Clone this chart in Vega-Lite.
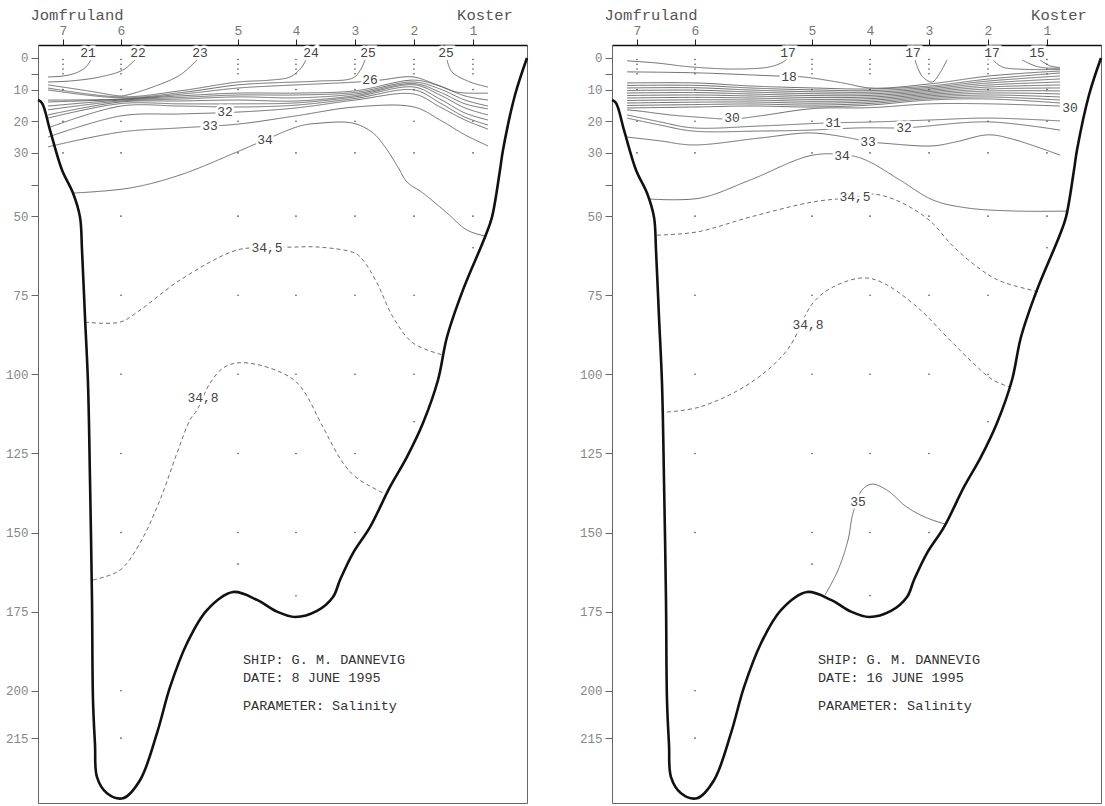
{
"$schema":"https://vega.github.io/schema/vega-lite/v6.json",
"background":"white",
"padding":{"left":4,"top":7,"right":4,"bottom":3},
"bounds":"flush",
"spacing":85,
"config":{"view":{"stroke":"#666","strokeWidth":1},"font":"Liberation Mono"},
"datasets":{
"bottom":[{"km":0,"d":13.3},{"km":0.4,"d":14.2},{"km":1.2,"d":22.8},{"km":2.4,"d":35.4},{"km":3.5,"d":42.7},{"km":4.2,"d":50.3},{"km":4.4,"d":60.7},{"km":4.7,"d":81.9},{"km":5.0,"d":102.8},{"km":5.2,"d":133.4},{"km":5.4,"d":171.4},{"km":5.5,"d":203},{"km":5.7,"d":217},{"km":5.9,"d":227.3},{"km":6.9,"d":232.4},{"km":8.5,"d":234},{"km":10.2,"d":228.3},{"km":11.9,"d":213.4},{"km":13.2,"d":198.9},{"km":14.9,"d":185},{"km":16.9,"d":174.5},{"km":19.5,"d":168.8},{"km":21.9,"d":171.3},{"km":23.9,"d":175.0},{"km":25.7,"d":176.7},{"km":27.9,"d":174.8},{"km":29.5,"d":170.4},{"km":30.2,"d":165},{"km":31.5,"d":156.5},{"km":33.2,"d":148.3},{"km":35.2,"d":135.6},{"km":36.9,"d":126.1},{"km":38.5,"d":115.4},{"km":40.0,"d":101.8},{"km":40.9,"d":88.2},{"km":42.5,"d":73.3},{"km":44.7,"d":56.6},{"km":45.4,"d":50.3},{"km":46.2,"d":35.4},{"km":46.5,"d":29.1},{"km":47.7,"d":11.7},{"km":48.9,"d":0}],
"dots":[
{"km":2.5,"d":0.5},{"km":2.5,"d":2},{"km":2.5,"d":3.5},{"km":2.5,"d":5},{"km":2.5,"d":10},{"km":2.5,"d":20},{"km":2.5,"d":30},
{"km":8.3,"d":0.5},{"km":8.3,"d":2},{"km":8.3,"d":3.5},{"km":8.3,"d":5},{"km":8.3,"d":10},{"km":8.3,"d":20},{"km":8.3,"d":30},{"km":8.3,"d":50},{"km":8.3,"d":75},{"km":8.3,"d":100},{"km":8.3,"d":125},{"km":8.3,"d":150},{"km":8.3,"d":200},{"km":8.3,"d":215},
{"km":20.0,"d":0.5},{"km":20.0,"d":2},{"km":20.0,"d":3.5},{"km":20.0,"d":5},{"km":20.0,"d":10},{"km":20.0,"d":20},{"km":20.0,"d":30},{"km":20.0,"d":50},{"km":20.0,"d":75},{"km":20.0,"d":100},{"km":20.0,"d":125},{"km":20.0,"d":150},{"km":20.0,"d":160},
{"km":25.8,"d":0.5},{"km":25.8,"d":2},{"km":25.8,"d":3.5},{"km":25.8,"d":5},{"km":25.8,"d":10},{"km":25.8,"d":20},{"km":25.8,"d":30},{"km":25.8,"d":50},{"km":25.8,"d":75},{"km":25.8,"d":100},{"km":25.8,"d":125},{"km":25.8,"d":150},{"km":25.8,"d":170},
{"km":31.7,"d":0.5},{"km":31.7,"d":2},{"km":31.7,"d":3.5},{"km":31.7,"d":5},{"km":31.7,"d":10},{"km":31.7,"d":20},{"km":31.7,"d":30},{"km":31.7,"d":50},{"km":31.7,"d":75},{"km":31.7,"d":100},{"km":31.7,"d":125},{"km":31.7,"d":150},
{"km":37.6,"d":0.5},{"km":37.6,"d":2},{"km":37.6,"d":3.5},{"km":37.6,"d":5},{"km":37.6,"d":10},{"km":37.6,"d":20},{"km":37.6,"d":30},{"km":37.6,"d":50},{"km":37.6,"d":75},{"km":37.6,"d":100},{"km":37.6,"d":115},
{"km":43.5,"d":0.5},{"km":43.5,"d":2},{"km":43.5,"d":3.5},{"km":43.5,"d":5},{"km":43.5,"d":10},{"km":43.5,"d":20},{"km":43.5,"d":30},{"km":43.5,"d":50},{"km":43.5,"d":60}],
"names":[{"t":"Jomfruland","km":3.9,"d":-13.6},{"t":"Koster","km":44.7,"d":-13.6}],
"info1":[{"t":"SHIP: G. M. DANNEVIG","km":20.5,"d":190.3},{"t":"DATE: 8 JUNE 1995","km":20.5,"d":196.0},{"t":"PARAMETER: Salinity","km":20.5,"d":204.9}],
"info2":[{"t":"SHIP: G. M. DANNEVIG","km":20.6,"d":190.3},{"t":"DATE: 16 JUNE 1995","km":20.6,"d":196.0},{"t":"PARAMETER: Salinity","km":20.6,"d":204.9}],
"lab1":[{"t":"21","km":5.0,"d":-1.6},{"t":"22","km":10.0,"d":-1.6},{"t":"23","km":16.2,"d":-1.6},{"t":"24","km":27.3,"d":-1.6},{"t":"25","km":33.0,"d":-1.6},{"t":"25","km":40.8,"d":-1.6},{"t":"26","km":33.2,"d":7.0},{"t":"32","km":18.7,"d":17.2},{"t":"33","km":17.2,"d":21.6},{"t":"34","km":22.7,"d":25.9},{"t":"34,5","km":22.9,"d":60.0},{"t":"34,8","km":16.5,"d":107.5}],
"lab2":[{"t":"17","km":17.6,"d":-1.6},{"t":"17","km":30.1,"d":-1.6},{"t":"17","km":38.0,"d":-1.6},{"t":"15","km":42.5,"d":-1.6},{"t":"18","km":17.7,"d":5.9},{"t":"30","km":12.0,"d":19.1},{"t":"30","km":45.8,"d":15.8},{"t":"31","km":22.1,"d":20.6},{"t":"32","km":29.2,"d":22.1},{"t":"33","km":25.6,"d":26.6},{"t":"34","km":23.0,"d":31.0},{"t":"34,5","km":24.3,"d":44.0},{"t":"34,8","km":19.6,"d":84.5},{"t":"35","km":24.6,"d":140.5}],
"c1":[
{"id":"c21","s":"s","km":1.0,"d":6.0},{"id":"c21","s":"s","km":2.5,"d":5.7},{"id":"c21","s":"s","km":3.9,"d":4.6},{"id":"c21","s":"s","km":4.8,"d":2.8},{"id":"c21","s":"s","km":5.3,"d":0.6},
{"id":"c22","s":"s","km":1.0,"d":7.6},{"id":"c22","s":"s","km":3.5,"d":7.2},{"id":"c22","s":"s","km":6.2,"d":6.0},{"id":"c22","s":"s","km":8.5,"d":3.8},{"id":"c22","s":"s","km":9.7,"d":0.6},
{"id":"c23","s":"s","km":1.0,"d":8.5},{"id":"c23","s":"s","km":5.0,"d":10.4},{"id":"c23","s":"s","km":8.3,"d":12.0},{"id":"c23","s":"s","km":8.9,"d":11.7},{"id":"c23","s":"s","km":11.2,"d":9.5},{"id":"c23","s":"s","km":14.2,"d":5.4},{"id":"c23","s":"s","km":15.9,"d":0.6},
{"id":"c24","s":"s","km":1.0,"d":9.5},{"id":"c24","s":"s","km":8.3,"d":12.3},{"id":"c24","s":"s","km":14.2,"d":10.4},{"id":"c24","s":"s","km":20.0,"d":7.6},{"id":"c24","s":"s","km":23.2,"d":7.0},{"id":"c24","s":"s","km":25.2,"d":6.0},{"id":"c24","s":"s","km":26.3,"d":3.2},{"id":"c24","s":"s","km":26.8,"d":0.6},
{"id":"c25a","s":"s","km":1.0,"d":10.1},{"id":"c25a","s":"s","km":8.3,"d":12.6},{"id":"c25a","s":"s","km":14.2,"d":11.0},{"id":"c25a","s":"s","km":20.0,"d":8.5},{"id":"c25a","s":"s","km":23.2,"d":7.9},{"id":"c25a","s":"s","km":28.0,"d":7.3},{"id":"c25a","s":"s","km":31.5,"d":6.3},{"id":"c25a","s":"s","km":32.3,"d":3.5},{"id":"c25a","s":"s","km":32.7,"d":0.6},
{"id":"c25b","s":"s","km":40.9,"d":0.6},{"id":"c25b","s":"s","km":41.4,"d":4.4},{"id":"c25b","s":"s","km":43.2,"d":7.6},{"id":"c25b","s":"s","km":45.0,"d":9.2},
{"id":"c26","s":"s","km":1.0,"d":13.3},{"id":"c26","s":"s","km":8.3,"d":13.0},{"id":"c26","s":"s","km":14.2,"d":11.5},{"id":"c26","s":"s","km":20.0,"d":9.5},{"id":"c26","s":"s","km":23.2,"d":8.9},{"id":"c26","s":"s","km":28.0,"d":8.2},{"id":"c26","s":"s","km":31.9,"d":7.6},{"id":"c26","s":"s","km":34.2,"d":7.0},{"id":"c26","s":"s","km":37.5,"d":6.0},{"id":"c26","s":"s","km":39.9,"d":8.5},{"id":"c26","s":"s","km":41.9,"d":10.8},{"id":"c26","s":"s","km":45.0,"d":11.1},
{"id":"c27","s":"s","km":1.0,"d":13.9},{"id":"c27","s":"s","km":8.3,"d":13.1},{"id":"c27","s":"s","km":14.2,"d":12.0},{"id":"c27","s":"s","km":20.0,"d":11.1},{"id":"c27","s":"s","km":25.8,"d":11.1},{"id":"c27","s":"s","km":31.7,"d":10.4},{"id":"c27","s":"s","km":37.6,"d":7.0},{"id":"c27","s":"s","km":40.2,"d":8.9},{"id":"c27","s":"s","km":42.7,"d":12.0},{"id":"c27","s":"s","km":45.0,"d":13.3},
{"id":"c28","s":"s","km":1.0,"d":15.2},{"id":"c28","s":"s","km":8.3,"d":13.3},{"id":"c28","s":"s","km":14.2,"d":12.5},{"id":"c28","s":"s","km":20.0,"d":11.7},{"id":"c28","s":"s","km":25.8,"d":11.7},{"id":"c28","s":"s","km":31.7,"d":10.9},{"id":"c28","s":"s","km":37.6,"d":7.6},{"id":"c28","s":"s","km":40.2,"d":9.8},{"id":"c28","s":"s","km":42.7,"d":13.3},{"id":"c28","s":"s","km":45.0,"d":15.2},
{"id":"c29","s":"s","km":1.0,"d":16.4},{"id":"c29","s":"s","km":8.3,"d":13.6},{"id":"c29","s":"s","km":14.2,"d":13.0},{"id":"c29","s":"s","km":20.0,"d":12.3},{"id":"c29","s":"s","km":25.8,"d":12.6},{"id":"c29","s":"s","km":31.7,"d":11.4},{"id":"c29","s":"s","km":37.6,"d":8.1},{"id":"c29","s":"s","km":40.2,"d":10.8},{"id":"c29","s":"s","km":42.7,"d":14.5},{"id":"c29","s":"s","km":45.0,"d":16.1},
{"id":"c30","s":"s","km":1.0,"d":18.0},{"id":"c30","s":"s","km":8.3,"d":13.9},{"id":"c30","s":"s","km":14.2,"d":13.6},{"id":"c30","s":"s","km":20.0,"d":13.3},{"id":"c30","s":"s","km":25.8,"d":13.6},{"id":"c30","s":"s","km":31.7,"d":11.9},{"id":"c30","s":"s","km":37.6,"d":8.5},{"id":"c30","s":"s","km":40.2,"d":11.7},{"id":"c30","s":"s","km":42.7,"d":15.8},{"id":"c30","s":"s","km":45.0,"d":18.0},
{"id":"c31","s":"s","km":1.0,"d":19.0},{"id":"c31","s":"s","km":8.3,"d":14.4},{"id":"c31","s":"s","km":14.2,"d":14.5},{"id":"c31","s":"s","km":20.0,"d":14.5},{"id":"c31","s":"s","km":25.8,"d":14.2},{"id":"c31","s":"s","km":31.7,"d":12.3},{"id":"c31","s":"s","km":37.6,"d":9.2},{"id":"c31","s":"s","km":40.2,"d":13.0},{"id":"c31","s":"s","km":42.7,"d":17.4},{"id":"c31","s":"s","km":45.0,"d":19.6},
{"id":"c31b","s":"s","km":1.0,"d":22.1},{"id":"c31b","s":"s","km":8.3,"d":15.2},{"id":"c31b","s":"s","km":14.2,"d":15.2},{"id":"c31b","s":"s","km":20.0,"d":15.5},{"id":"c31b","s":"s","km":25.8,"d":14.9},{"id":"c31b","s":"s","km":31.7,"d":12.8},{"id":"c31b","s":"s","km":37.6,"d":10.1},{"id":"c31b","s":"s","km":40.2,"d":14.2},{"id":"c31b","s":"s","km":42.7,"d":18.7},{"id":"c31b","s":"s","km":45.0,"d":21.2},
{"id":"c32","s":"s","km":1.0,"d":25.0},{"id":"c32","s":"s","km":8.3,"d":18.3},{"id":"c32","s":"s","km":14.2,"d":17.7},{"id":"c32","s":"s","km":20.0,"d":17.1},{"id":"c32","s":"s","km":25.8,"d":15.8},{"id":"c32","s":"s","km":31.7,"d":13.3},{"id":"c32","s":"s","km":37.6,"d":11.4},{"id":"c32","s":"s","km":40.2,"d":15.5},{"id":"c32","s":"s","km":42.7,"d":19.6},{"id":"c32","s":"s","km":45.0,"d":22.5},
{"id":"c33","s":"s","km":1.0,"d":28.1},{"id":"c33","s":"s","km":8.3,"d":23.4},{"id":"c33","s":"s","km":14.2,"d":22.1},{"id":"c33","s":"s","km":20.0,"d":20.9},{"id":"c33","s":"s","km":25.8,"d":18.3},{"id":"c33","s":"s","km":31.7,"d":15.5},{"id":"c33","s":"s","km":37.6,"d":15.5},{"id":"c33","s":"s","km":40.2,"d":19.6},{"id":"c33","s":"s","km":42.7,"d":24.3},{"id":"c33","s":"s","km":45.0,"d":27.8},
{"id":"c34","s":"s","km":3.5,"d":42.7},{"id":"c34","s":"s","km":9.2,"d":41.1},{"id":"c34","s":"s","km":14.2,"d":37.0},{"id":"c34","s":"s","km":19.9,"d":29.7},{"id":"c34","s":"s","km":22.7,"d":25.9},{"id":"c34","s":"s","km":26.2,"d":21.5},{"id":"c34","s":"s","km":28.2,"d":20.6},{"id":"c34","s":"s","km":31.5,"d":20.6},{"id":"c34","s":"s","km":33.5,"d":23.7},{"id":"c34","s":"s","km":34.7,"d":28.1},{"id":"c34","s":"s","km":36.0,"d":34.5},{"id":"c34","s":"s","km":36.9,"d":39.2},{"id":"c34","s":"s","km":38.5,"d":42.7},{"id":"c34","s":"s","km":40.9,"d":49.0},{"id":"c34","s":"s","km":42.9,"d":54.4},{"id":"c34","s":"s","km":44.7,"d":56.3},
{"id":"c345","s":"d","km":4.7,"d":83.5},{"id":"c345","s":"d","km":8.2,"d":83.5},{"id":"c345","s":"d","km":10.2,"d":79.7},{"id":"c345","s":"d","km":14.2,"d":70.2},{"id":"c345","s":"d","km":19.9,"d":60.7},{"id":"c345","s":"d","km":22.9,"d":60.0},{"id":"c345","s":"d","km":25.2,"d":59.8},{"id":"c345","s":"d","km":28.2,"d":59.8},{"id":"c345","s":"d","km":31.7,"d":61.7},{"id":"c345","s":"d","km":32.5,"d":63.9},{"id":"c345","s":"d","km":33.9,"d":71.1},{"id":"c345","s":"d","km":35.5,"d":81.9},{"id":"c345","s":"d","km":37.5,"d":90.1},{"id":"c345","s":"d","km":40.5,"d":93.9},
{"id":"c348","s":"d","km":5.5,"d":165.0},{"id":"c348","s":"d","km":8.2,"d":161.9},{"id":"c348","s":"d","km":10.2,"d":153.3},{"id":"c348","s":"d","km":12.2,"d":139.7},{"id":"c348","s":"d","km":13.9,"d":124.9},{"id":"c348","s":"d","km":15.2,"d":114.4},{"id":"c348","s":"d","km":15.9,"d":111.3},{"id":"c348","s":"d","km":17.2,"d":102.8},{"id":"c348","s":"d","km":18.5,"d":98.0},{"id":"c348","s":"d","km":19.9,"d":96.4},{"id":"c348","s":"d","km":22.2,"d":97.1},{"id":"c348","s":"d","km":25.2,"d":100.9},{"id":"c348","s":"d","km":26.5,"d":104.9},{"id":"c348","s":"d","km":28.5,"d":116.7},{"id":"c348","s":"d","km":30.5,"d":128.0},{"id":"c348","s":"d","km":31.9,"d":132.8},{"id":"c348","s":"d","km":34.5,"d":137.5}],
"c2":[
{"id":"c17a","s":"s","km":1.5,"d":0.9},{"id":"c17a","s":"s","km":4.5,"d":1.6},{"id":"c17a","s":"s","km":7.8,"d":2.8},{"id":"c17a","s":"s","km":12.5,"d":3.5},{"id":"c17a","s":"s","km":15.8,"d":2.8},{"id":"c17a","s":"s","km":17.1,"d":1.3},{"id":"c17a","s":"s","km":17.5,"d":0.3},
{"id":"c18","s":"s","km":1.5,"d":4.4},{"id":"c18","s":"s","km":8.4,"d":4.7},{"id":"c18","s":"s","km":16.5,"d":5.7},{"id":"c18","s":"s","km":19.1,"d":6.0},{"id":"c18","s":"s","km":23.1,"d":7.9},{"id":"c18","s":"s","km":25.9,"d":9.5},{"id":"c18","s":"s","km":31.8,"d":8.2},{"id":"c18","s":"s","km":37.7,"d":5.7},{"id":"c18","s":"s","km":44.8,"d":4.1},
{"id":"c17b","s":"s","km":38.1,"d":0.6},{"id":"c17b","s":"s","km":39.0,"d":2.8},{"id":"c17b","s":"s","km":41.3,"d":3.6},{"id":"c17b","s":"s","km":44.8,"d":3.6},
{"id":"c16","s":"s","km":41.0,"d":0.6},{"id":"c16","s":"s","km":42.6,"d":2.8},{"id":"c16","s":"s","km":44.8,"d":3.3},
{"id":"c15","s":"s","km":42.8,"d":0.6},{"id":"c15","s":"s","km":43.8,"d":2.5},{"id":"c15","s":"s","km":44.8,"d":3.0},
{"id":"c17c","s":"s","km":30.3,"d":0.6},{"id":"c17c","s":"s","km":31.0,"d":5.7},{"id":"c17c","s":"s","km":32.0,"d":7.6},{"id":"c17c","s":"s","km":32.8,"d":4.7},{"id":"c17c","s":"s","km":33.5,"d":0.6},
{"id":"b0","s":"s","km":1.5,"d":7.9},{"id":"b0","s":"s","km":8.4,"d":7.9},{"id":"b0","s":"s","km":13.8,"d":8.85},{"id":"b0","s":"s","km":20.1,"d":9.48},{"id":"b0","s":"s","km":25.9,"d":9.8},{"id":"b0","s":"s","km":31.8,"d":8.85},{"id":"b0","s":"s","km":37.7,"d":6.64},{"id":"b0","s":"s","km":44.8,"d":4.74},
{"id":"b1","s":"s","km":1.5,"d":8.69},{"id":"b1","s":"s","km":8.4,"d":8.66},{"id":"b1","s":"s","km":13.8,"d":9.48},{"id":"b1","s":"s","km":20.1,"d":10.09},{"id":"b1","s":"s","km":25.9,"d":10.31},{"id":"b1","s":"s","km":31.8,"d":9.29},{"id":"b1","s":"s","km":37.7,"d":7.27},{"id":"b1","s":"s","km":44.8,"d":5.69},
{"id":"b2","s":"s","km":1.5,"d":9.48},{"id":"b2","s":"s","km":8.4,"d":9.42},{"id":"b2","s":"s","km":13.8,"d":10.12},{"id":"b2","s":"s","km":20.1,"d":10.69},{"id":"b2","s":"s","km":25.9,"d":10.81},{"id":"b2","s":"s","km":31.8,"d":9.74},{"id":"b2","s":"s","km":37.7,"d":7.9},{"id":"b2","s":"s","km":44.8,"d":6.64},
{"id":"b3","s":"s","km":1.5,"d":10.28},{"id":"b3","s":"s","km":8.4,"d":10.18},{"id":"b3","s":"s","km":13.8,"d":10.75},{"id":"b3","s":"s","km":20.1,"d":11.29},{"id":"b3","s":"s","km":25.9,"d":11.32},{"id":"b3","s":"s","km":31.8,"d":10.18},{"id":"b3","s":"s","km":37.7,"d":8.54},{"id":"b3","s":"s","km":44.8,"d":7.59},
{"id":"b4","s":"s","km":1.5,"d":11.07},{"id":"b4","s":"s","km":8.4,"d":10.94},{"id":"b4","s":"s","km":13.8,"d":11.38},{"id":"b4","s":"s","km":20.1,"d":11.89},{"id":"b4","s":"s","km":25.9,"d":11.82},{"id":"b4","s":"s","km":31.8,"d":10.62},{"id":"b4","s":"s","km":37.7,"d":9.17},{"id":"b4","s":"s","km":44.8,"d":8.54},
{"id":"b5","s":"s","km":1.5,"d":11.86},{"id":"b5","s":"s","km":8.4,"d":11.7},{"id":"b5","s":"s","km":13.8,"d":12.01},{"id":"b5","s":"s","km":20.1,"d":12.49},{"id":"b5","s":"s","km":25.9,"d":12.33},{"id":"b5","s":"s","km":31.8,"d":11.07},{"id":"b5","s":"s","km":37.7,"d":9.8},{"id":"b5","s":"s","km":44.8,"d":9.48},
{"id":"b6","s":"s","km":1.5,"d":12.65},{"id":"b6","s":"s","km":8.4,"d":12.46},{"id":"b6","s":"s","km":13.8,"d":12.65},{"id":"b6","s":"s","km":20.1,"d":13.09},{"id":"b6","s":"s","km":25.9,"d":12.84},{"id":"b6","s":"s","km":31.8,"d":11.51},{"id":"b6","s":"s","km":37.7,"d":10.43},{"id":"b6","s":"s","km":44.8,"d":10.43},
{"id":"b7","s":"s","km":1.5,"d":13.44},{"id":"b7","s":"s","km":8.4,"d":13.22},{"id":"b7","s":"s","km":13.8,"d":13.28},{"id":"b7","s":"s","km":20.1,"d":13.69},{"id":"b7","s":"s","km":25.9,"d":13.34},{"id":"b7","s":"s","km":31.8,"d":11.95},{"id":"b7","s":"s","km":37.7,"d":11.07},{"id":"b7","s":"s","km":44.8,"d":11.38},
{"id":"b8","s":"s","km":1.5,"d":14.23},{"id":"b8","s":"s","km":8.4,"d":13.97},{"id":"b8","s":"s","km":13.8,"d":13.91},{"id":"b8","s":"s","km":20.1,"d":14.29},{"id":"b8","s":"s","km":25.9,"d":13.85},{"id":"b8","s":"s","km":31.8,"d":12.39},{"id":"b8","s":"s","km":37.7,"d":11.7},{"id":"b8","s":"s","km":44.8,"d":12.33},
{"id":"b9","s":"s","km":1.5,"d":15.02},{"id":"b9","s":"s","km":8.4,"d":14.73},{"id":"b9","s":"s","km":13.8,"d":14.54},{"id":"b9","s":"s","km":20.1,"d":14.89},{"id":"b9","s":"s","km":25.9,"d":14.35},{"id":"b9","s":"s","km":31.8,"d":12.84},{"id":"b9","s":"s","km":37.7,"d":12.33},{"id":"b9","s":"s","km":44.8,"d":13.28},
{"id":"b10","s":"s","km":1.5,"d":15.81},{"id":"b10","s":"s","km":8.4,"d":15.49},{"id":"b10","s":"s","km":13.8,"d":15.18},{"id":"b10","s":"s","km":20.1,"d":15.49},{"id":"b10","s":"s","km":25.9,"d":14.86},{"id":"b10","s":"s","km":31.8,"d":13.28},{"id":"b10","s":"s","km":37.7,"d":12.96},{"id":"b10","s":"s","km":44.8,"d":14.23},
{"id":"c30","s":"s","km":1.5,"d":16.4},{"id":"c30","s":"s","km":2.8,"d":16.8},{"id":"c30","s":"s","km":5.8,"d":18.0},{"id":"c30","s":"s","km":8.5,"d":18.7},{"id":"c30","s":"s","km":12.0,"d":19.3},{"id":"c30","s":"s","km":14.8,"d":18.3},{"id":"c30","s":"s","km":20.1,"d":16.0},{"id":"c30","s":"s","km":25.9,"d":15.7},{"id":"c30","s":"s","km":31.8,"d":14.5},{"id":"c30","s":"s","km":37.7,"d":14.5},{"id":"c30","s":"s","km":44.8,"d":15.2},
{"id":"c31","s":"s","km":1.5,"d":18.0},{"id":"c31","s":"s","km":4.8,"d":20.2},{"id":"c31","s":"s","km":8.1,"d":22.1},{"id":"c31","s":"s","km":14.8,"d":21.5},{"id":"c31","s":"s","km":21.1,"d":20.6},{"id":"c31","s":"s","km":26.5,"d":20.2},{"id":"c31","s":"s","km":31.8,"d":19.6},{"id":"c31","s":"s","km":37.7,"d":19.0},{"id":"c31","s":"s","km":44.8,"d":19.9},
{"id":"c32","s":"s","km":1.5,"d":19.0},{"id":"c32","s":"s","km":4.8,"d":21.2},{"id":"c32","s":"s","km":8.1,"d":23.1},{"id":"c32","s":"s","km":14.8,"d":23.1},{"id":"c32","s":"s","km":19.8,"d":22.8},{"id":"c32","s":"s","km":24.8,"d":22.1},{"id":"c32","s":"s","km":29.2,"d":22.1},{"id":"c32","s":"s","km":30.6,"d":21.8},{"id":"c32","s":"s","km":37.6,"d":20.2},{"id":"c32","s":"s","km":44.8,"d":22.8},
{"id":"c33","s":"s","km":1.5,"d":25.0},{"id":"c33","s":"s","km":4.8,"d":26.2},{"id":"c33","s":"s","km":8.1,"d":27.5},{"id":"c33","s":"s","km":14.8,"d":25.3},{"id":"c33","s":"s","km":19.8,"d":23.7},{"id":"c33","s":"s","km":23.3,"d":25.0},{"id":"c33","s":"s","km":25.8,"d":26.6},{"id":"c33","s":"s","km":27.0,"d":26.9},{"id":"c33","s":"s","km":32.0,"d":27.8},{"id":"c33","s":"s","km":34.3,"d":26.6},{"id":"c33","s":"s","km":37.6,"d":24.3},{"id":"c33","s":"s","km":40.0,"d":25.6},{"id":"c33","s":"s","km":44.8,"d":30.7},
{"id":"c34","s":"s","km":3.8,"d":44.6},{"id":"c34","s":"s","km":8.8,"d":44.3},{"id":"c34","s":"s","km":13.8,"d":38.6},{"id":"c34","s":"s","km":20.1,"d":30.7},{"id":"c34","s":"s","km":24.1,"d":31.0},{"id":"c34","s":"s","km":25.8,"d":32.9},{"id":"c34","s":"s","km":28.8,"d":38.6},{"id":"c34","s":"s","km":32.1,"d":44.9},{"id":"c34","s":"s","km":35.5,"d":47.4},{"id":"c34","s":"s","km":40.5,"d":48.4},{"id":"c34","s":"s","km":45.5,"d":48.4},
{"id":"c345","s":"d","km":4.5,"d":56.0},{"id":"c345","s":"d","km":8.5,"d":55.0},{"id":"c345","s":"d","km":13.8,"d":50.3},{"id":"c345","s":"d","km":20.1,"d":45.5},{"id":"c345","s":"d","km":24.3,"d":44.0},{"id":"c345","s":"d","km":26.1,"d":43.0},{"id":"c345","s":"d","km":28.8,"d":45.5},{"id":"c345","s":"d","km":31.8,"d":51.5},{"id":"c345","s":"d","km":34.1,"d":59.5},{"id":"c345","s":"d","km":36.8,"d":66.7},{"id":"c345","s":"d","km":38.8,"d":70.5},{"id":"c345","s":"d","km":42.8,"d":74.0},
{"id":"c348","s":"d","km":5.5,"d":111.9},{"id":"c348","s":"d","km":8.8,"d":110.3},{"id":"c348","s":"d","km":13.8,"d":102.8},{"id":"c348","s":"d","km":17.5,"d":92.4},{"id":"c348","s":"d","km":20.1,"d":77.4},{"id":"c348","s":"d","km":22.1,"d":72.4},{"id":"c348","s":"d","km":25.1,"d":69.5},{"id":"c348","s":"d","km":27.1,"d":71.1},{"id":"c348","s":"d","km":30.5,"d":78.7},{"id":"c348","s":"d","km":33.8,"d":89.2},{"id":"c348","s":"d","km":36.1,"d":96.4},{"id":"c348","s":"d","km":38.1,"d":101.8},{"id":"c348","s":"d","km":39.8,"d":104.0},
{"id":"c35","s":"s","km":21.3,"d":169.8},{"id":"c35","s":"s","km":22.6,"d":161.9},{"id":"c35","s":"s","km":23.6,"d":152.4},{"id":"c35","s":"s","km":24.1,"d":143.9},{"id":"c35","s":"s","km":25.0,"d":136.6},{"id":"c35","s":"s","km":26.0,"d":134.7},{"id":"c35","s":"s","km":27.5,"d":136.6},{"id":"c35","s":"s","km":29.5,"d":142.0},{"id":"c35","s":"s","km":31.5,"d":145.4},{"id":"c35","s":"s","km":33.3,"d":147.3}]
},
"hconcat":[
{"width":489,"height":758,
"encoding":{
"x":{"field":"km","type":"quantitative","title":null,"scale":{"domain":[0,48.9],"nice":false,"zero":false},"axis":{"orient":"top","values":[2.5,8.3,20,25.8,31.7,37.6,43.5],"labelExpr":"datum.value < 5 ? '7' : datum.value < 12 ? '6' : datum.value < 23 ? '5' : datum.value < 29 ? '4' : datum.value < 35 ? '3' : datum.value < 40 ? '2' : '1'","grid":false,"tickSize":6,"tickColor":"#222","domainColor":"#111","domainWidth":1.3,"labelColor":"#777","labelFontSize":13,"labelFont":"Liberation Mono","labelPadding":2}},
"y":{"field":"d","type":"quantitative","title":null,"scale":{"domain":[-4.1,235.5],"reverse":true,"nice":false,"zero":false},"axis":{"values":[0,5,10,20,30,40,50,75,100,125,150,175,200,215],"labelExpr":"datum.value == 5 || datum.value == 40 ? '' : datum.label","grid":false,"tickSize":7,"tickColor":"#666","domainColor":"#666","labelColor":"#888","labelFontSize":12.5,"labelFont":"Liberation Mono","labelPadding":3}}},
"layer":[
{"data":{"name":"dots"},"mark":{"type":"point","filled":true,"size":2.5,"color":"#444","opacity":1}},
{"data":{"name":"c1"},"mark":{"type":"line","interpolate":"catmull-rom","strokeWidth":0.85,"color":"#555"},
"encoding":{"detail":{"field":"id"},"strokeDash":{"field":"s","type":"nominal","scale":{"domain":["s","d"],"range":[[1,0],[4,3]]},"legend":null}}},
{"data":{"name":"bottom"},"mark":{"type":"line","interpolate":"catmull-rom","strokeWidth":2.6,"color":"#111"},"encoding":{}},
{"data":{"name":"lab1"},"mark":{"type":"text","font":"Liberation Mono","fontSize":13,"stroke":"white","strokeWidth":5,"fill":"white"},"encoding":{"text":{"field":"t"}}},
{"data":{"name":"lab1"},"mark":{"type":"text","font":"Liberation Mono","fontSize":13,"color":"#444"},"encoding":{"text":{"field":"t"}}},
{"data":{"name":"names"},"mark":{"type":"text","font":"Liberation Mono","fontSize":15.5,"color":"#555"},"encoding":{"text":{"field":"t"}}},
{"data":{"name":"info1"},"mark":{"type":"text","align":"left","font":"Liberation Mono","fontSize":13.5,"color":"#333"},"encoding":{"text":{"field":"t"}}}
]},
{"width":489,"height":758,
"encoding":{
"x":{"field":"km","type":"quantitative","title":null,"scale":{"domain":[0,48.9],"nice":false,"zero":false},"axis":{"orient":"top","values":[2.5,8.3,20,25.8,31.7,37.6,43.5],"labelExpr":"datum.value < 5 ? '7' : datum.value < 12 ? '6' : datum.value < 23 ? '5' : datum.value < 29 ? '4' : datum.value < 35 ? '3' : datum.value < 40 ? '2' : '1'","grid":false,"tickSize":6,"tickColor":"#222","domainColor":"#111","domainWidth":1.3,"labelColor":"#777","labelFontSize":13,"labelFont":"Liberation Mono","labelPadding":2}},
"y":{"field":"d","type":"quantitative","title":null,"scale":{"domain":[-4.1,235.5],"reverse":true,"nice":false,"zero":false},"axis":{"values":[0,5,10,20,30,40,50,75,100,125,150,175,200,215],"labelExpr":"datum.value == 5 || datum.value == 40 ? '' : datum.label","grid":false,"tickSize":7,"tickColor":"#666","domainColor":"#666","labelColor":"#888","labelFontSize":12.5,"labelFont":"Liberation Mono","labelPadding":3}}},
"layer":[
{"data":{"name":"dots"},"mark":{"type":"point","filled":true,"size":2.5,"color":"#444","opacity":1}},
{"data":{"name":"c2"},"mark":{"type":"line","interpolate":"catmull-rom","strokeWidth":0.85,"color":"#555"},
"encoding":{"detail":{"field":"id"},"strokeDash":{"field":"s","type":"nominal","scale":{"domain":["s","d"],"range":[[1,0],[4,3]]},"legend":null}}},
{"data":{"name":"bottom"},"mark":{"type":"line","interpolate":"catmull-rom","strokeWidth":2.6,"color":"#111"},"encoding":{}},
{"data":{"name":"lab2"},"mark":{"type":"text","font":"Liberation Mono","fontSize":13,"stroke":"white","strokeWidth":5,"fill":"white"},"encoding":{"text":{"field":"t"}}},
{"data":{"name":"lab2"},"mark":{"type":"text","font":"Liberation Mono","fontSize":13,"color":"#444"},"encoding":{"text":{"field":"t"}}},
{"data":{"name":"names"},"mark":{"type":"text","font":"Liberation Mono","fontSize":15.5,"color":"#555"},"encoding":{"text":{"field":"t"}}},
{"data":{"name":"info2"},"mark":{"type":"text","align":"left","font":"Liberation Mono","fontSize":13.5,"color":"#333"},"encoding":{"text":{"field":"t"}}}
]}
]
}
